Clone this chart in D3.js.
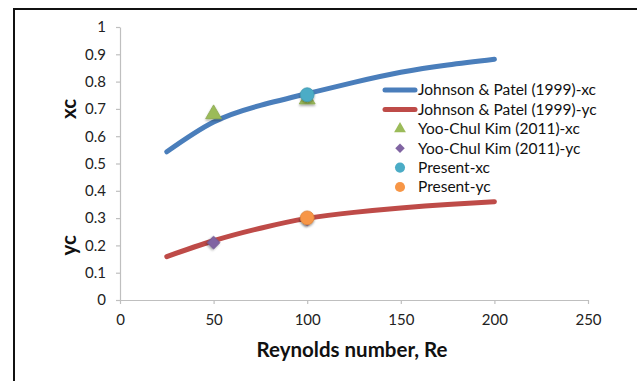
<!DOCTYPE html>
<html>
<head>
<meta charset="utf-8">
<script src="https://cdn.jsdelivr.net/npm/d3@7"></script>
<style>
  body { margin: 0; background: #fff; overflow: hidden; }
  text { font-family: Lato, "Open Sans", sans-serif; }
</style>
</head>
<body>
<div id="chart"></div>
<script>
// --- Data ---
const reLine = [25, 50, 75, 100, 125, 150, 175, 200];
const jpXc = [0.543, 0.652, 0.713, 0.756, 0.797, 0.834, 0.861, 0.882];
const jpYc = [0.159, 0.217, 0.263, 0.299, 0.321, 0.337, 0.350, 0.360];
const kimRe = [50, 100];
const kimXc = [0.681, 0.735];
const kimYc = [0.210, 0.295];
const presentRe = [100];
const presentXc = [0.752];
const presentYc = [0.301];
const xTicks = [0, 50, 100, 150, 200, 250];
const yTicks = [0, 0.1, 0.2, 0.3, 0.4, 0.5, 0.6, 0.7, 0.8, 0.9, 1];
const legendLabels = [
  "Johnson & Patel (1999)-xc",
  "Johnson & Patel (1999)-yc",
  "Yoo-Chul Kim (2011)-xc",
  "Yoo-Chul Kim (2011)-yc",
  "Present-xc",
  "Present-yc"
];

const W = 637, H = 381;
const blue = "#4a7ebb", red = "#be4b48", green = "#9bbb59",
      purple = "#8064a2", cyan = "#4bacc6", orange = "#f79646";

const svg = d3.select("#chart").append("svg")
  .attr("width", W).attr("height", H);

const defs = svg.append("defs");
const shadow = defs.append("filter").attr("id", "shadow")
  .attr("x", "-50%").attr("y", "-50%").attr("width", "200%").attr("height", "200%");
shadow.append("feDropShadow").attr("dx", 0).attr("dy", 1.5)
  .attr("stdDeviation", 1).attr("flood-color", "#000").attr("flood-opacity", 0.35);

// outer frame
svg.append("rect").attr("x", 14).attr("y", 9).attr("width", 640).attr("height", 400)
  .attr("fill", "none").attr("stroke", "#111").attr("stroke-width", 2);

const x = d3.scaleLinear().domain([0, 250]).range([120, 588]);
const y = d3.scaleLinear().domain([0, 1]).range([300, 27]);

// axes
const xAxis = svg.append("g").attr("transform", `translate(0,${y(0)})`)
  .call(d3.axisBottom(x).tickValues(xTicks).tickSize(4).tickSizeOuter(0).tickPadding(10));
const yAxis = svg.append("g").attr("transform", `translate(${x(0)},0)`)
  .call(d3.axisLeft(y).tickValues(yTicks).tickSize(4).tickSizeOuter(0).tickPadding(10)
    .tickFormat(d => d3.format("~g")(d)));
[xAxis, yAxis].forEach(g => {
  g.select(".domain").attr("stroke", "#bfbfbf").attr("stroke-width", 1.2);
  g.selectAll(".tick line").attr("stroke", "#bfbfbf").attr("stroke-width", 1.2);
  g.selectAll(".tick text").attr("fill", "#222").attr("font-size", 15)
    .attr("font-family", "Lato, 'Open Sans', sans-serif");
});

// axis titles
svg.append("text").attr("x", 352).attr("y", 357).attr("text-anchor", "middle")
  .attr("font-size", 20.5).attr("font-weight", "bold").attr("fill", "#111")
  .text("Reynolds number, Re");
svg.append("text").attr("transform", `translate(76,${y(0.7)}) rotate(-90)`)
  .attr("text-anchor", "middle").attr("font-size", 20.5).attr("font-weight", "bold")
  .attr("fill", "#111").text("xc");
svg.append("text").attr("transform", `translate(76,${y(0.2)}) rotate(-90)`)
  .attr("text-anchor", "middle").attr("font-size", 20.5).attr("font-weight", "bold")
  .attr("fill", "#111").text("yc");

// lines
const line = d3.line().x(d => x(d[0])).y(d => y(d[1])).curve(d3.curveNatural);
svg.append("path").datum(d3.zip(reLine, jpXc)).attr("d", line)
  .attr("fill", "none").attr("stroke", blue).attr("stroke-width", 5).attr("stroke-linecap", "round");
svg.append("path").datum(d3.zip(reLine, jpYc)).attr("d", line)
  .attr("fill", "none").attr("stroke", red).attr("stroke-width", 5).attr("stroke-linecap", "round");

// markers
const tri = d3.symbol().type(d3.symbolTriangle).size(110);
const dia = d3.symbol().type(d3.symbolSquare).size(80);
const circ = d3.symbol().type(d3.symbolCircle).size(150);

function markers(re, vals, sym, color, rot) {
  svg.append("g").selectAll("path").data(d3.zip(re, vals)).join("path")
    .attr("transform", d => `translate(${x(d[0])},${y(d[1])}) rotate(${rot || 0})`)
    .attr("d", sym).attr("fill", color)
    .attr("stroke", d3.color(color).darker(0.3)).attr("stroke-width", 0.8)
    .attr("filter", "url(#shadow)");
}
markers(kimRe, kimXc, tri, green);
markers(kimRe, kimYc, dia, purple, 45);
markers(presentRe, presentXc, circ, cyan);
markers(presentRe, presentYc, circ, orange);

// legend
const legY = d3.scalePoint().domain(legendLabels).range([90, 187]);
const legColors = [blue, red, green, purple, cyan, orange];
const legSyms = [null, null,
  d3.symbol().type(d3.symbolTriangle).size(60),
  d3.symbol().type(d3.symbolSquare).size(45),
  d3.symbol().type(d3.symbolCircle).size(80),
  d3.symbol().type(d3.symbolCircle).size(80)];
const leg = svg.append("g");
legendLabels.forEach((lab, i) => {
  const ly = legY(lab);
  if (legSyms[i] === null) {
    leg.append("line").attr("x1", 385).attr("x2", 415).attr("y1", ly).attr("y2", ly)
      .attr("stroke", legColors[i]).attr("stroke-width", 5).attr("stroke-linecap", "round");
  } else {
    leg.append("path").attr("transform", `translate(400,${ly}) rotate(${i === 3 ? 45 : 0})`)
      .attr("d", legSyms[i]).attr("fill", legColors[i]);
  }
  leg.append("text").attr("x", 418).attr("y", ly).attr("dy", "0.35em")
    .attr("font-size", 15.5).attr("fill", "#111").text(lab);
});
</script>
</body>
</html>
